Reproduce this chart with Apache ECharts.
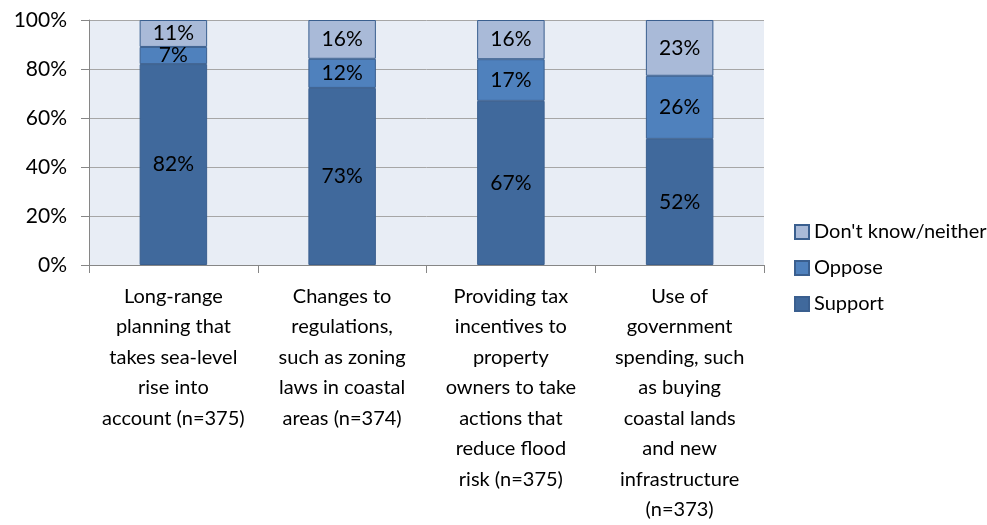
<!DOCTYPE html>
<html>
<head>
<meta charset="utf-8">
<script src="https://cdn.jsdelivr.net/npm/echarts@6/dist/echarts.min.js"></script>
<style>
  html, body { margin: 0; padding: 0; background: #fff; }
  #chart { width: 987px; height: 525px; }
</style>
</head>
<body>
<div id="chart"></div>
<script>
const categories = [
  'Long-range\nplanning that\ntakes sea-level\nrise into\naccount (n=375)',
  'Changes to\nregulations,\nsuch as zoning\nlaws in coastal\nareas (n=374)',
  'Providing tax\nincentives to\nproperty\nowners to take\nactions that\nreduce flood\nrisk (n=375)',
  'Use of\ngovernment\nspending, such\nas buying\ncoastal lands\nand new\ninfrastructure\n(n=373)'
];
const support = [82, 73, 67, 52];
const oppose = [7, 12, 17, 26];
const dontKnow = [11, 16, 16, 23];
const yTicks = [0, 20, 40, 60, 80, 100];

const font = 'Lato, "Open Sans", sans-serif';
const totals = support.map((v, i) => v + oppose[i] + dontKnow[i]);
const share = arr => arr.map((v, i) => ({ value: v / totals[i] * 100, raw: v }));

const chart = echarts.init(document.getElementById('chart'));

const segment = (name, arr, color) => ({
  name: name,
  type: 'bar',
  stack: 'all',
  barWidth: '40%',
  data: share(arr),
  itemStyle: { color: color, borderColor: '#3A5F8F', borderWidth: 1 },
  label: {
    show: true,
    position: 'inside',
    formatter: p => p.data.raw + '%',
    color: '#000',
    fontSize: 21,
    fontFamily: font
  }
});

const option = {
  animation: false,
  grid: {
    left: 89,
    right: 223,
    top: 20,
    bottom: 260,
    show: true,
    backgroundColor: '#E8EDF5',
    borderWidth: 0
  },
  legend: {
    orient: 'vertical',
    left: 789,
    top: 217,
    itemWidth: 14,
    itemHeight: 14,
    itemGap: 16,
    icon: 'rect',
    data: ["Don't know/neither", 'Oppose', 'Support'],
    textStyle: { fontSize: 20, fontFamily: font, color: '#000' }
  },
  xAxis: {
    type: 'category',
    data: categories,
    axisLine: { lineStyle: { color: '#868686' } },
    axisTick: { show: true, length: 8, alignWithLabel: false, lineStyle: { color: '#868686' } },
    axisLabel: {
      interval: 0,
      color: '#000',
      fontSize: 20,
      fontFamily: font,
      lineHeight: 30.5,
      margin: 16
    }
  },
  yAxis: {
    type: 'value',
    min: yTicks[0],
    max: yTicks[yTicks.length - 1],
    interval: 20,
    axisLine: { show: true, lineStyle: { color: '#868686' } },
    axisTick: { show: true, length: 8, lineStyle: { color: '#868686' } },
    splitLine: { lineStyle: { color: '#A6A6A6', width: 1 } },
    axisLabel: {
      formatter: v => v + '%',
      color: '#000',
      fontSize: 21,
      fontFamily: font,
      margin: 22
    }
  },
  series: [
    segment('Support', support, '#40699C'),
    segment('Oppose', oppose, '#4F81BD'),
    segment("Don't know/neither", dontKnow, '#A9BAD8')
  ]
};

chart.setOption(option);
</script>
</body>
</html>
